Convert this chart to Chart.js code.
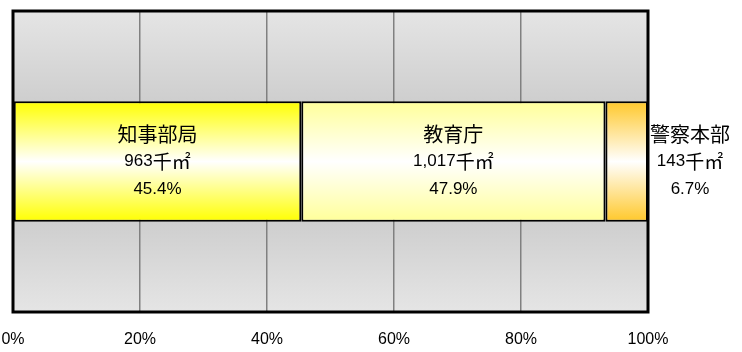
<!DOCTYPE html>
<html>
<head>
<meta charset="utf-8">
<script src="https://cdn.jsdelivr.net/npm/chart.js@4/dist/chart.umd.min.js"></script>
<style>
    html, body { margin: 0; padding: 0; background: #ffffff; }
    #wrap { width: 742px; height: 352px; }
</style>
</head>
<body>
<div id="wrap"><canvas id="grafico1" width="742" height="352"></canvas></div>
<script>
var names = ['知事部局', '教育庁', '警察本部'];
var areas = [963, 1017, 143];
var shares = [45.4, 47.9, 6.7];
var colors = ['#ffff00', '#ffff99', '#ffc82a'];
var ticks = [0, 20, 40, 60, 80, 100];
var unit = '千㎡';

var numFont = '"Liberation Sans", "Noto Sans CJK JP", sans-serif';
var jpFont = '"Noto Sans CJK JP", sans-serif';

// bar spans 0.3 .. 0.7 of the plot height (barPercentage 0.4, one category)
function barGradient(color) {
    return function(ctx) {
        var a = ctx.chart.chartArea;
        if (!a || !isFinite(a.top) || !isFinite(a.bottom)) {
            return color;
        }
        var g = ctx.chart.ctx.createLinearGradient(0, a.top, 0, a.bottom);
        g.addColorStop(0.3, color);
        g.addColorStop(0.5, '#ffffff');
        g.addColorStop(0.7, color);
        return g;
    };
}

var plotBackground = {
    id: 'plotBackground',
    beforeDraw: function(chart) {
        var a = chart.chartArea;
        var ctx = chart.ctx;
        var g = ctx.createLinearGradient(0, a.top, 0, a.bottom);
        g.addColorStop(0, '#e5e5e5');
        g.addColorStop(0.5, '#bfbfbf');
        g.addColorStop(1, '#e5e5e5');
        ctx.save();
        ctx.fillStyle = g;
        ctx.fillRect(a.left, a.top, a.right - a.left, a.bottom - a.top);
        ctx.restore();
    }
};

// number in a latin font, unit in the japanese font, centred together
function drawValue(ctx, text, cx, cy) {
    ctx.font = '17px ' + numFont;
    var w1 = ctx.measureText(text).width;
    ctx.font = '19px ' + jpFont;
    var w2 = ctx.measureText(unit).width;
    var x = cx - (w1 + w2) / 2;
    ctx.textAlign = 'left';
    ctx.font = '17px ' + numFont;
    ctx.fillText(text, x, cy);
    ctx.font = '19px ' + jpFont;
    ctx.fillText(unit, x + w1, cy);
    ctx.textAlign = 'center';
}

var frameAndLabels = {
    id: 'frameAndLabels',
    afterDatasetsDraw: function(chart) {
        var a = chart.chartArea;
        var ctx = chart.ctx;
        ctx.save();
        ctx.strokeStyle = '#000000';
        ctx.lineWidth = 3;
        ctx.strokeRect(a.left, a.top, a.right - a.left, a.bottom - a.top);

        ctx.fillStyle = '#000000';
        ctx.textAlign = 'center';
        ctx.textBaseline = 'middle';
        for (var i = 0; i < names.length; i++) {
            var bar = chart.getDatasetMeta(i).data[0];
            var cx = (bar.x + bar.base) / 2;
            if (i == names.length - 1) {
                cx = a.right + 42;
            }
            var cy = bar.y;
            ctx.font = '20px ' + jpFont;
            ctx.fillText(names[i], cx, cy - 27);
            drawValue(ctx, areas[i].toLocaleString('en-US'), cx, cy);
            ctx.font = '17px ' + numFont;
            ctx.fillText(shares[i].toFixed(1) + '%', cx, cy + 28);
        }
        ctx.restore();
    }
};

function makeGraphic(id) {
    var canvas = document.getElementById('grafico' + id);
    var datasets = [];
    for (var i = 0; i < names.length; i++) {
        datasets.push({
            label: names[i],
            data: [shares[i]],
            backgroundColor: barGradient(colors[i]),
            borderColor: '#000000',
            borderWidth: 2,
            borderSkipped: false,
            barPercentage: 0.4,
            categoryPercentage: 1
        });
    }
    var dataGraphic = ({
        type: 'bar',
        data: {
            labels: [''],
            datasets: datasets
        },
        options: {
            indexAxis: 'y',
            responsive: false,
            animation: false,
            layout: { padding: { left: 13, right: 94, top: 11, bottom: 0 } },
            plugins: {
                legend: { display: false },
                tooltip: { enabled: false }
            },
            scales: {
                x: {
                    stacked: true,
                    min: 0,
                    max: 100,
                    afterFit: function(scale) {
                        scale.height = 40;
                        scale.paddingLeft = 0;
                        scale.paddingRight = 0;
                    },
                    afterBuildTicks: function(scale) {
                        scale.ticks = ticks.map(function(v) { return { value: v }; });
                    },
                    border: { display: false },
                    grid: { color: '#808080', lineWidth: 1.5, drawTicks: false },
                    ticks: {
                        padding: 18,
                        color: '#000000',
                        maxRotation: 0,
                        font: { family: numFont, size: 16 },
                        callback: function(v) { return v + '%'; }
                    }
                },
                y: {
                    stacked: true,
                    display: false
                }
            }
        },
        plugins: [plotBackground, frameAndLabels]
    });
    return new Chart(canvas, dataGraphic);
}

makeGraphic(1);
</script>
</body>
</html>
